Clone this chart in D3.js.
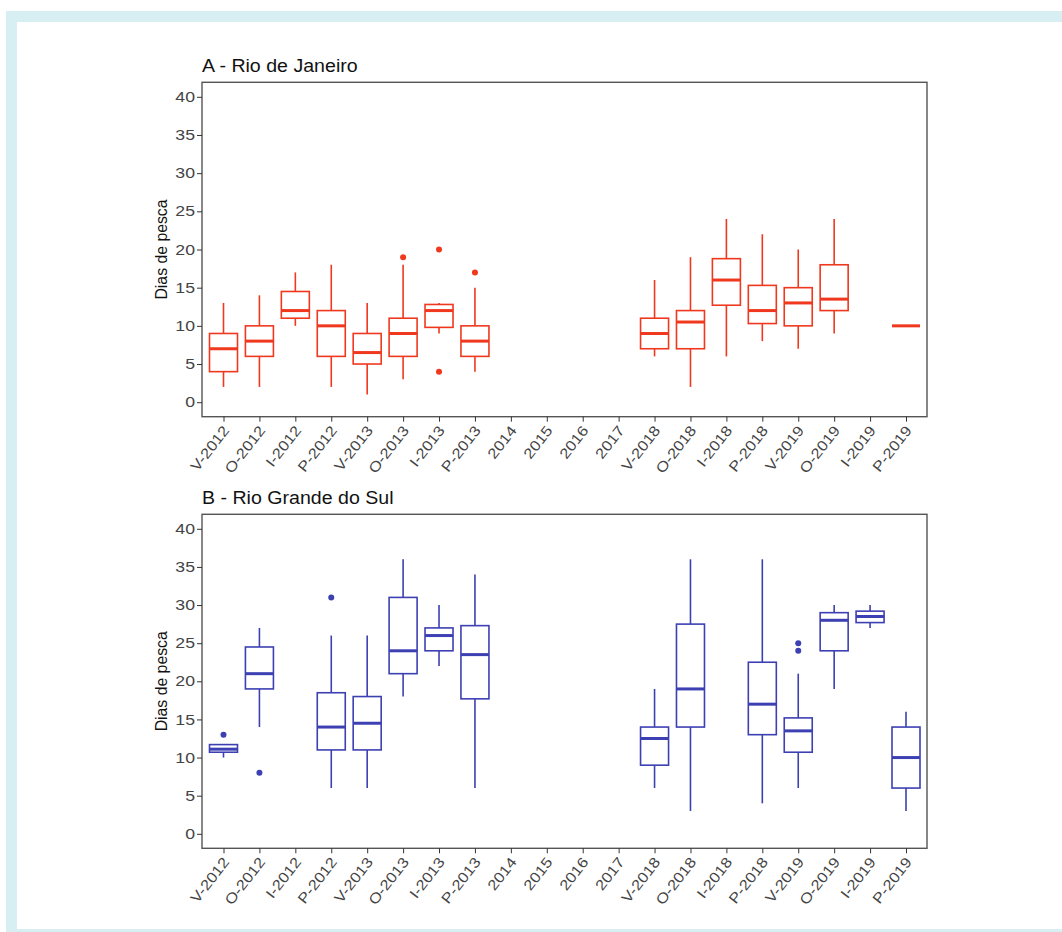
<!DOCTYPE html>
<html><head><meta charset="utf-8">
<script src="https://cdn.jsdelivr.net/npm/d3@7"></script>
<style>body{margin:0;background:#fff}svg{display:block}text{font-family:"Liberation Sans",Arial,sans-serif}</style>
</head><body><div id="chart"></div>
<script>
const categories = ["V-2012","O-2012","I-2012","P-2012","V-2013","O-2013","I-2013","P-2013","2014","2015","2016","2017","V-2018","O-2018","I-2018","P-2018","V-2019","O-2019","I-2019","P-2019"];
const yTicks = [0,5,10,15,20,25,30,35,40];

// A - Rio de Janeiro
const rjLow  = [2,2,10,2,1,3,9,4,null,null,null,null,6,2,6,8,7,9,null,10];
const rjQ1   = [4,6,11,6,5,6,9.8,6,null,null,null,null,7,7,12.7,10.3,10,12,null,10];
const rjMed  = [7,8,12,10,6.5,9,12,8,null,null,null,null,9,10.5,16,12,13,13.5,null,10];
const rjQ3   = [9,10,14.5,12,9,11,12.8,10,null,null,null,null,11,12,18.8,15.3,15,18,null,10];
const rjHigh = [13,14,17,18,13,18,13,15,null,null,null,null,16,19,24,22,20,24,null,10];
const rjOutCat = ["O-2013","I-2013","I-2013","P-2013"];
const rjOutVal = [19,20,4,17];

// B - Rio Grande do Sul
const rsLow  = [10,14,null,6,6,18,22,6,null,null,null,null,6,3,null,4,6,19,27,3];
const rsQ1   = [10.7,19,null,11,11,21,24,17.7,null,null,null,null,9,14,null,13,10.7,24,27.7,6];
const rsMed  = [11.1,21,null,14,14.5,24,26,23.5,null,null,null,null,12.5,19,null,17,13.5,28,28.5,10];
const rsQ3   = [11.7,24.5,null,18.5,18,31,27,27.3,null,null,null,null,14,27.5,null,22.5,15.2,29,29.2,14];
const rsHigh = [11.7,27,null,26,26,36,30,34,null,null,null,null,19,36,null,36,21,30,30,16];
const rsOutCat = ["V-2012","O-2012","P-2012","V-2019","V-2019"];
const rsOutVal = [13,8,31,24,25];

const W = 1062, H = 932;
const svg = d3.select("#chart").append("svg").attr("width", W).attr("height", H);
svg.append("rect").attr("width", W).attr("height", H).attr("fill", "#fff");
const frame = "#d7eff3";
svg.append("rect").attr("x", 6).attr("y", 11).attr("width", W - 6).attr("height", 11).attr("fill", frame);
svg.append("rect").attr("x", 6).attr("y", 11).attr("width", 11).attr("height", H - 11).attr("fill", frame);
svg.append("rect").attr("x", 6).attr("y", 929).attr("width", W - 6).attr("height", 3).attr("fill", frame);

const left = 202, right = 927;
const x = d3.scalePoint().domain(categories).range([223.5, 906]);
const boxW = 28;
const textColor = "#444";

function panel(top, bottom, title, color, low, q1, med, q3, high, outCat, outVal) {
  const y = d3.scaleLinear().domain([-1.9, 41.9]).range([bottom, top]);
  const g = svg.append("g");
  g.append("text").attr("transform", `translate(${left},${top - 10}) scale(1.12,1)`)
    .attr("font-size", 17.5).attr("fill", "#111").text(title);

  const data = categories.map((c, i) => ({c, lo: low[i], q1: q1[i], med: med[i], q3: q3[i], hi: high[i]})).filter(d => d.med != null);
  const b = g.append("g");
  b.selectAll("line.wu").data(data).join("line")
    .attr("x1", d => x(d.c)).attr("x2", d => x(d.c)).attr("y1", d => y(d.q3)).attr("y2", d => y(d.hi))
    .attr("stroke", color).attr("stroke-width", 1.6);
  b.selectAll("line.wl").data(data).join("line")
    .attr("x1", d => x(d.c)).attr("x2", d => x(d.c)).attr("y1", d => y(d.q1)).attr("y2", d => y(d.lo))
    .attr("stroke", color).attr("stroke-width", 1.6);
  b.selectAll("rect.box").data(data).join("rect")
    .attr("x", d => x(d.c) - boxW / 2).attr("width", boxW)
    .attr("y", d => y(d.q3)).attr("height", d => y(d.q1) - y(d.q3))
    .attr("fill", "none").attr("stroke", color).attr("stroke-width", 1.6);
  b.selectAll("line.med").data(data).join("line")
    .attr("x1", d => x(d.c) - boxW / 2).attr("x2", d => x(d.c) + boxW / 2)
    .attr("y1", d => y(d.med)).attr("y2", d => y(d.med))
    .attr("stroke", color).attr("stroke-width", 3);
  g.selectAll("circle.out").data(outCat.map((c, i) => ({c, v: outVal[i]}))).join("circle")
    .attr("cx", d => x(d.c)).attr("cy", d => y(d.v)).attr("r", 3).attr("fill", color);

  // frame
  g.append("rect").attr("x", left).attr("y", top).attr("width", right - left).attr("height", bottom - top)
    .attr("fill", "none").attr("stroke", "#555").attr("stroke-width", 1.4);

  // y axis
  const ya = g.append("g").attr("transform", `translate(${left},0)`)
    .call(d3.axisLeft(y).tickValues(yTicks).tickSize(5).tickPadding(3));
  ya.select(".domain").remove();
  ya.selectAll(".tick line").attr("stroke", "#333");
  ya.selectAll(".tick text").attr("font-size", 14.5).attr("fill", textColor)
    .attr("font-family", "Liberation Sans, Arial, sans-serif")
    .attr("x", 0).attr("transform", "translate(-7,0) scale(1.22,1)");

  // x axis
  const xa = g.append("g").attr("transform", `translate(0,${bottom})`)
    .call(d3.axisBottom(x).tickSize(5).tickPadding(3));
  xa.select(".domain").remove();
  xa.selectAll(".tick line").attr("stroke", "#333");
  xa.selectAll(".tick text").attr("font-size", 14.5).attr("fill", textColor)
    .attr("font-family", "Liberation Sans, Arial, sans-serif")
    .attr("text-anchor", "end").attr("dy", null).attr("y", null)
    .attr("transform", "translate(6,14) rotate(-52) scale(1.15,1)");

  g.append("text").attr("transform", `translate(167,${(top + bottom) / 2}) rotate(-90)`)
    .attr("text-anchor", "middle").attr("font-size", 15.8).attr("fill", "#111").text("Dias de pesca");
}

panel(82.3, 416.7, "A - Rio de Janeiro", "#f0381e", rjLow, rjQ1, rjMed, rjQ3, rjHigh, rjOutCat, rjOutVal);
panel(514.3, 848.3, "B - Rio Grande do Sul", "#3d40b2", rsLow, rsQ1, rsMed, rsQ3, rsHigh, rsOutCat, rsOutVal);
</script></body></html>
